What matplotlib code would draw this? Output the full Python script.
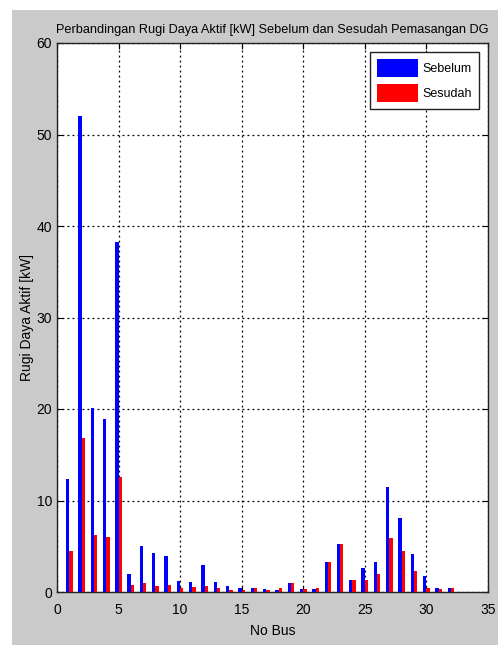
import numpy as np
import matplotlib
matplotlib.use("Agg")
import matplotlib.pyplot as plt
from matplotlib.patches import Rectangle

# Data
bus = np.arange(1, 33)
sebelum = [12.3, 52.0, 20.1, 18.9, 38.3, 2.0, 5.0, 4.3, 3.9, 1.2,
           1.1, 2.9, 1.1, 0.7, 0.4, 0.4, 0.3, 0.2, 1.0, 0.3,
           0.3, 3.3, 5.3, 1.3, 2.6, 3.3, 11.5, 8.1, 4.1, 1.8,
           0.4, 0.4]
sesudah = [4.5, 16.8, 6.2, 6.0, 12.6, 0.8, 1.0, 0.7, 0.8, 0.4,
           0.5, 0.7, 0.4, 0.2, 0.2, 0.4, 0.2, 0.4, 1.0, 0.3,
           0.4, 3.3, 5.2, 1.3, 1.3, 2.0, 5.9, 4.5, 2.3, 0.4,
           0.3, 0.4]

xticks = [0, 5, 10, 15, 20, 25, 30, 35]
yticks = [0, 10, 20, 30, 40, 50, 60]

plt.rcParams['font.family'] = ['Liberation Sans', 'DejaVu Sans']

fig = plt.figure(figsize=(5.0, 6.45), dpi=100)
fig.patch.set_facecolor('white')

# Grey MATLAB-style figure panel (behind the axes)
panel = Rectangle((12 / 500, 0), 1 - 14 / 500, 1 - 10 / 645,
                  transform=fig.transFigure, facecolor='#cacaca',
                  edgecolor='none', zorder=-10)
fig.add_artist(panel)

ax = fig.add_axes([57 / 500, 1 - 592 / 645, 431 / 500, 549 / 645])
ax.set_zorder(1)
ax.set_facecolor('white')

w = 0.27
ax.bar(bus - 0.14, sebelum, width=w, color='#0000ff', label='Sebelum', zorder=3)
ax.bar(bus + 0.13, sesudah, width=w, color='#ff0000', label='Sesudah', zorder=3)

ax.set_xlim(0, 35)
ax.set_ylim(0, 60)
ax.set_xticks(xticks)
ax.set_yticks(yticks)
ax.tick_params(direction='in', top=True, right=True, labelsize=10, length=4)
ax.tick_params(axis='x', pad=8)
ax.grid(True, color='black', linestyle=(0, (1.5, 2.5)), linewidth=0.9, zorder=1)
for s in ax.spines.values():
    s.set_linewidth(1.0)
    s.set_color('#222222')

ax.set_title('Perbandingan Rugi Daya Aktif [kW] Sebelum dan Sesudah Pemasangan DG',
             fontsize=9.2, pad=7)
ax.set_xlabel('No Bus', fontsize=10, labelpad=5)
ax.set_ylabel('Rugi Daya Aktif [kW]', fontsize=10, labelpad=2)

leg = ax.legend(loc='upper right', fontsize=9, handlelength=3.3, handleheight=1.85,
                fancybox=False, framealpha=1, edgecolor='#222222',
                borderaxespad=0.75, labelspacing=0.6, handletextpad=0.4,
                borderpad=0.5)
leg.get_frame().set_linewidth(1.0)
leg.set_zorder(5)

fig.savefig('out.png', dpi=100, facecolor=fig.get_facecolor())
